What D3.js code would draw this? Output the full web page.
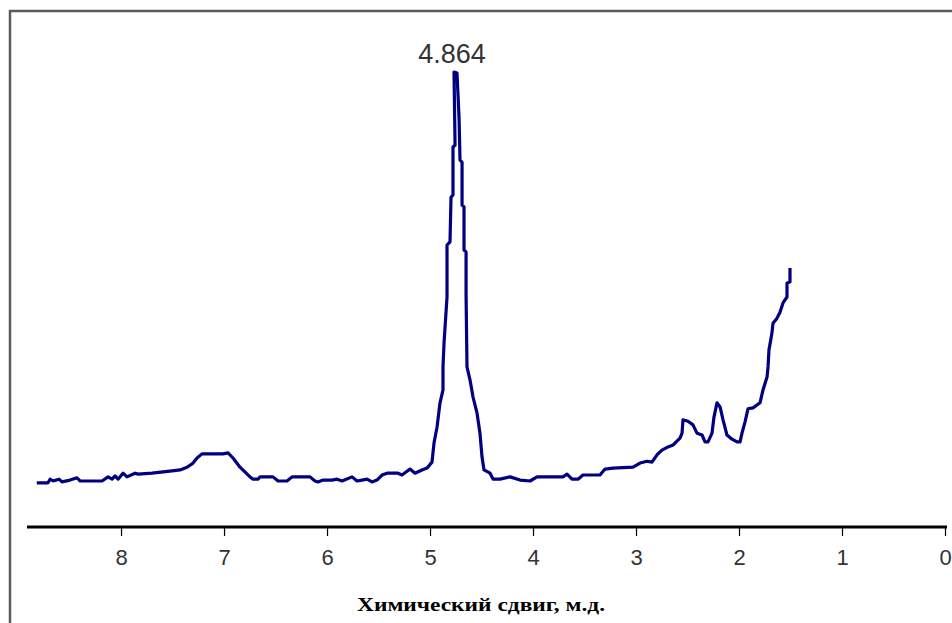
<!DOCTYPE html>
<html>
<head>
<meta charset="utf-8">
<script src="https://cdn.jsdelivr.net/npm/d3@7"></script>
<style>
  body { margin: 0; background: #fff; }
  svg { display: block; }
</style>
</head>
<body>
<div id="chart"></div>
<script>
(function() {
    const width = 952, height = 623;

    // chemical shift, ppm
    const shift = [8.818, 8.709, 8.689, 8.660, 8.602, 8.573, 8.495, 8.427, 8.398, 8.184,
        8.126, 8.087, 8.058, 8.029, 7.981, 7.942, 7.864, 7.835, 7.699, 7.505,
        7.427, 7.359, 7.301, 7.262, 7.214, 7.010, 6.961, 6.913, 6.845, 6.748,
        6.718, 6.670, 6.650, 6.524, 6.476, 6.388, 6.340, 6.165, 6.117, 6.087,
        6.039, 5.951, 5.903, 5.854, 5.757, 5.709, 5.660, 5.612, 5.563, 5.515,
        5.466, 5.417, 5.311, 5.272, 5.194, 5.146, 5.078, 5.029, 4.981, 4.961,
        4.932, 4.903, 4.874, 4.874, 4.864, 4.835, 4.835, 4.806, 4.796, 4.777,
        4.777, 4.757, 4.767, 4.738, 4.718, 4.709, 4.689, 4.689, 4.670, 4.670,
        4.650, 4.650, 4.641, 4.612, 4.583, 4.544, 4.515, 4.495, 4.476, 4.417,
        4.388, 4.320, 4.223, 4.126, 4.029, 3.961, 3.709, 3.670, 3.621, 3.563,
        3.515, 3.350, 3.301, 3.223, 3.029, 2.961, 2.893, 2.845, 2.796, 2.748,
        2.689, 2.641, 2.573, 2.553, 2.544, 2.495, 2.447, 2.408, 2.359, 2.330,
        2.301, 2.262, 2.243, 2.214, 2.184, 2.155, 2.117, 2.068, 2.019, 1.990,
        1.971, 1.942, 1.913, 1.864, 1.796, 1.767, 1.728, 1.718, 1.709, 1.680,
        1.670, 1.631, 1.602, 1.573, 1.534, 1.534, 1.505, 1.505];

    // intensity, arbitrary units (0..100)
    const intensity = [9.6, 9.6, 10.4, 10.0, 10.4, 9.8, 10.2, 10.7, 10.0, 10.0,
        10.9, 10.4, 11.1, 10.4, 11.7, 10.9, 11.7, 11.5, 11.7, 12.2,
        12.4, 13.0, 13.9, 15.0, 15.9, 15.9, 16.1, 15.0, 13.0, 10.9,
        10.4, 10.4, 10.9, 10.9, 10.0, 10.0, 10.9, 10.9, 10.0, 9.8,
        10.2, 10.2, 10.4, 10.0, 10.9, 10.0, 10.2, 10.4, 9.8, 10.2,
        11.3, 11.7, 11.7, 11.3, 12.6, 11.7, 12.4, 12.8, 14.1, 18.3,
        21.7, 27.0, 29.8, 34.8, 40.0, 50.0, 61.3, 62.0, 71.7, 72.2,
        82.6, 83.0, 98.9, 98.7, 88.9, 79.8, 79.3, 70.0, 69.6, 60.2,
        59.8, 50.4, 34.8, 32.0, 28.3, 24.8, 20.4, 15.2, 12.4, 11.7,
        10.4, 10.4, 10.9, 10.2, 10.0, 10.9, 10.9, 11.5, 10.4, 10.4,
        11.3, 11.3, 12.6, 12.8, 13.0, 13.9, 14.3, 14.1, 15.7, 16.7,
        17.4, 17.8, 19.3, 20.4, 23.3, 23.0, 22.2, 20.4, 20.0, 18.5,
        18.5, 20.4, 23.9, 27.0, 26.1, 23.3, 20.0, 19.1, 18.5, 18.5,
        20.4, 22.8, 25.7, 25.9, 27.0, 29.8, 32.6, 34.8, 38.5, 42.2,
        44.3, 45.4, 46.7, 48.7, 50.0, 53.0, 53.3, 56.3];

    const xTicks = [8, 7, 6, 5, 4, 3, 2, 1, 0];
    const peakLabel = "4.864";
    const xTitle = "Химический сдвиг, м.д.";

    const data = shift.map((s, i) => ({ x: s, y: intensity[i] }));

    const svg = d3.select("#chart").append("svg")
        .attr("width", width)
        .attr("height", height);

    svg.append("rect").attr("width", width).attr("height", height).attr("fill", "#fff");

    // outer frame (runs off the right and bottom edges)
    svg.append("rect")
        .attr("x", 10).attr("y", 11)
        .attr("width", width + 20).attr("height", height + 20)
        .attr("fill", "none")
        .attr("stroke", "#5a5a5a")
        .attr("stroke-width", 2.5);

    const x = d3.scaleLinear().domain([8.913, 0]).range([27, 945]);
    const y = d3.scaleLinear().domain([0, 100]).range([527, 67]);

    // x axis
    const axis = svg.append("g")
        .attr("transform", "translate(0,527)")
        .call(d3.axisBottom(x).tickValues(xTicks).tickSize(9).tickSizeOuter(0)
            .tickFormat(d3.format("d")));
    axis.select(".domain").attr("stroke", "#000").attr("stroke-width", 3)
        .attr("d", `M${x.range()[0]},0H${x.range()[1] + 2}`);
    axis.selectAll(".tick line").attr("stroke", "#000").attr("stroke-width", 1.2);
    axis.selectAll(".tick text")
        .attr("y", 38)
        .attr("dy", 0)
        .attr("fill", "#333")
        .style("font-family", "'Liberation Sans', Arial, sans-serif")
        .style("font-size", "22px");

    svg.append("text")
        .attr("x", 481).attr("y", 611)
        .attr("text-anchor", "middle")
        .attr("textLength", 248)
        .attr("lengthAdjust", "spacingAndGlyphs")
        .style("font-family", "'Liberation Serif', 'DejaVu Serif', serif")
        .style("font-weight", "bold")
        .style("font-size", "19px")
        .text(xTitle);

    // spectrum
    const line = d3.line().x(d => x(d.x)).y(d => y(d.y));
    svg.append("path")
        .datum(data)
        .attr("d", line)
        .attr("fill", "none")
        .attr("stroke", "#000080")
        .attr("stroke-width", 3.2)
        .attr("stroke-linejoin", "round");

    // peak label
    const peak = data.reduce((a, b) => (b.y > a.y ? b : a));
    svg.append("text")
        .attr("x", x(peak.x) - 2)
        .attr("y", y(peak.y) - 9)
        .attr("text-anchor", "middle")
        .attr("fill", "#333")
        .style("font-family", "'Liberation Sans', Arial, sans-serif")
        .style("font-size", "27px")
        .text(peakLabel);
})();
</script>
</body>
</html>
